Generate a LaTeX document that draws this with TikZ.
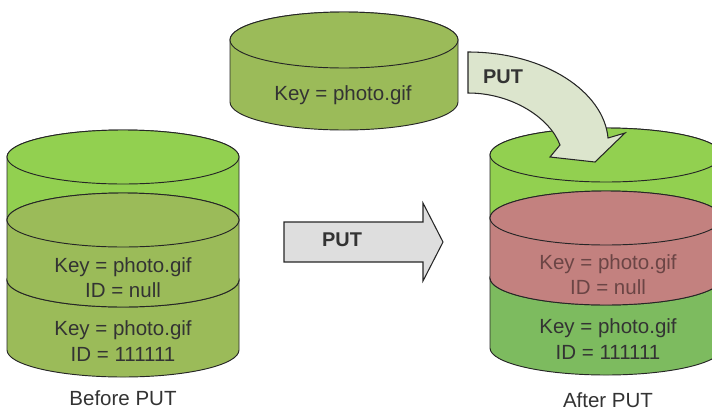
\documentclass[tikz,border=0pt]{standalone}
\usepackage{fontspec}
\setmainfont{Liberation Sans}
\usetikzlibrary{positioning}
\definecolor{ink}{HTML}{333333}
\definecolor{staleink}{HTML}{6B4545}
\definecolor{edge}{HTML}{262626}
\definecolor{fresh}{HTML}{92D050}
\definecolor{olive}{HTML}{9BBB59}
\definecolor{stale}{HTML}{C3817F}
\definecolor{kept}{HTML}{7DBB5F}
\definecolor{putgray}{HTML}{DEDEDE}
\definecolor{putpale}{HTML}{DCE5CD}
\tikzset{
  layer/.style={draw=edge,line width=.8pt,line join=round},
  drumtext/.style={text=ink,align=center,inner sep=1pt,
    font=\fontsize{17.5}{21.5}\selectfont},
  staletext/.style={drumtext,text=staleink},
  blockarrow/.style={draw=edge,line width=.9pt,line join=miter},
  arrowlabel/.style={text=ink,inner sep=1pt,font=\fontsize{17}{20}\selectfont\bfseries},
  caption/.style={text=ink,inner sep=1pt,font=\fontsize{17.5}{21}\selectfont}
}
% one slice of a drum: fill, centre x, top y, bottom y, x radius, y radius
\newcommand{\drumlayer}[6]{%
  \filldraw[layer,fill=#1] ({#2-#5},#3) -- ({#2-#5},#4)
    arc[start angle=180,end angle=0,x radius=#5,y radius=#6]
    -- ({#2+#5},#3) arc[start angle=0,end angle=-180,x radius=#5,y radius=#6] -- cycle;
  \filldraw[layer,fill=#1] (#2,#3) ellipse[x radius=#5,y radius=#6];
}

\begin{document}
\begin{tikzpicture}[x=0.03cm,y=-0.03cm]
\useasboundingbox (0,0) rectangle (712,417);

% Object being uploaded
\drumlayer{olive}{344}{40}{102}{114}{28}
\node[drumtext] (newobj) at (343,95) {Key = photo.gif};

% Bucket before the upload
\drumlayer{fresh}{123}{157}{220}{116}{27}
\drumlayer{olive}{123}{280}{350}{116}{27}
\drumlayer{olive}{123}{220}{280}{116}{27}
\node[drumtext] (oldnull) at (123,278) {Key = photo.gif\\ID = null};
\node[drumtext] (oldver) at (123,341) {Key = photo.gif\\ID = 111111};
\node[caption] (before) at (123,398) {Before PUT};

% Bucket after the upload
\drumlayer{fresh}{606}{155}{218}{116}{27}
\drumlayer{kept}{606}{278}{348}{116}{27}
\drumlayer{stale}{606}{218}{278}{116}{27}
\node[staletext] (newnull) at (608,275) {Key = photo.gif\\ID = null};
\node[drumtext] (keptver) at (608,339) {Key = photo.gif\\ID = 111111};
\node[caption] (after) at (608,400) {After PUT};

% Block arrows
\filldraw[blockarrow,fill=putgray] (284,222) -- (423,222) -- (423,203) -- (443,242)
  -- (423,281) -- (423,262) -- (284,262) -- cycle;
\node[arrowlabel] (putmid) at (342,240) {PUT};

\filldraw[blockarrow,fill=putpale] (468,52) .. controls (545,52) and (604,92) .. (608,138)
  -- (625,133) -- (595,162) -- (550,157) -- (560,145)
  .. controls (550,118) and (512,93) .. (468,93) -- cycle;
\node[arrowlabel] (puttop) at (503,77) {PUT};

\end{tikzpicture}
\end{document}
